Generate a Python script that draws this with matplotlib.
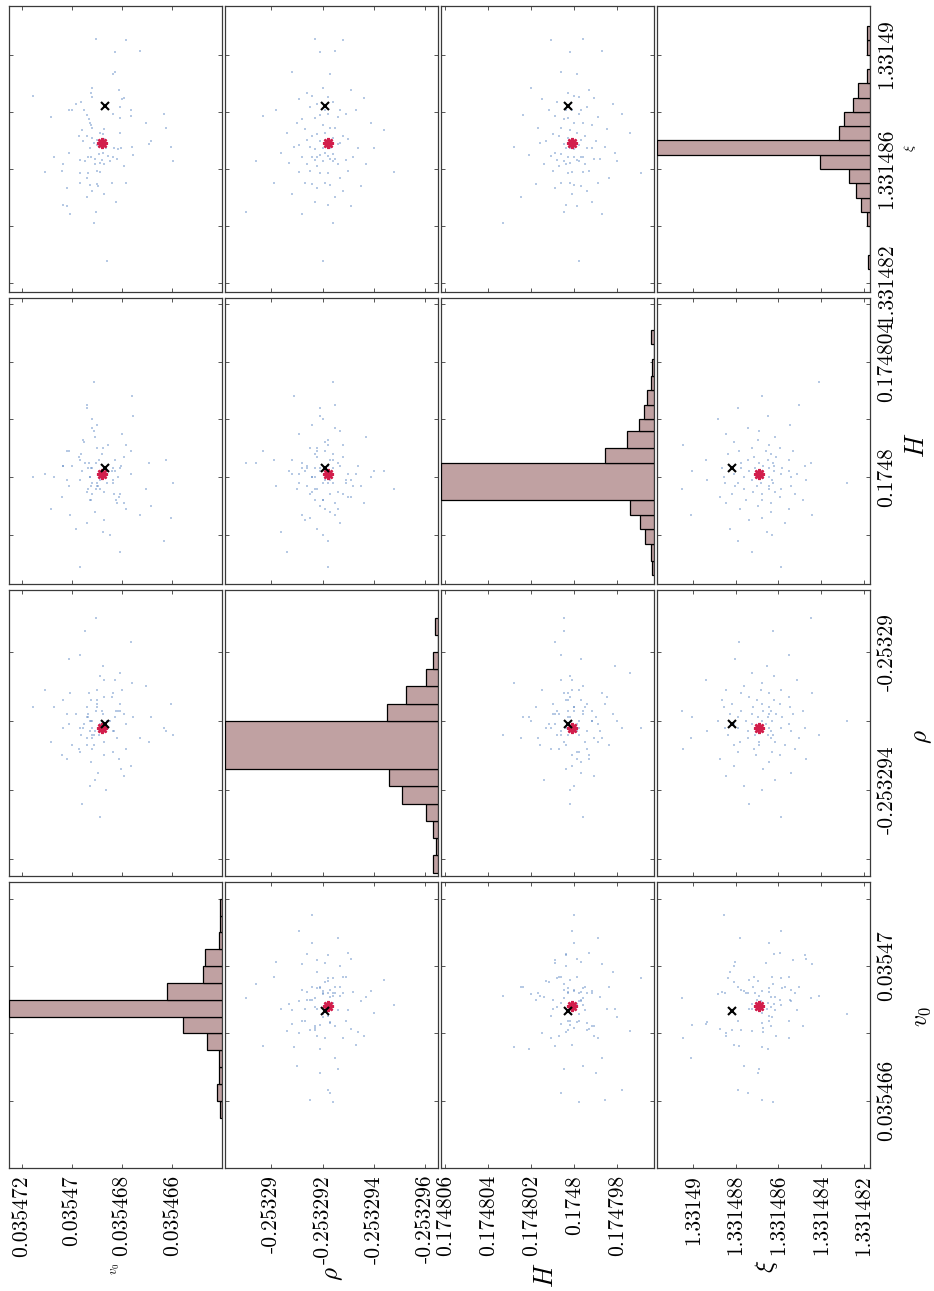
import numpy as np
import matplotlib
matplotlib.use("Agg")
import matplotlib.pyplot as plt

plt.rcParams['mathtext.fontset'] = 'cm'

# ---- posterior draws (offsets in units of 1e-6 from a reference value) ----
v0_off = [-0.96, -2.15, -1.75, -2.73, -1.72, -1.67, -0.83, -1.88, -0.76, -0.80,
          -1.99, -2.09, 1.53, -0.36, -0.17, 0.00, 0.11, -0.48, -1.91, -2.35,
          -0.63, 0.84, -0.71, -1.64, -2.36, -3.69, -1.91, -0.75, -0.79, -0.81,
          -2.97, -3.77, -1.28, -0.40, -1.27, -1.13, -1.93, -0.31, -0.63, -0.80,
          -0.45, -1.00, -1.29, -3.17, -3.07, -2.40, -1.69, -1.85, -1.96, -3.97,
          0.09, -1.03, -0.89, -0.73, -1.39, -0.65, -1.09, -1.27, -1.47, 0.69,
          -0.77, -1.64, -1.79, -2.45, -0.33, -0.53, -0.92, -1.21, -1.29, -1.13,
          -0.93, -1.52, 0.36, -4.04, -2.09, 0.40, 1.05, -0.35, -1.00, -1.15,
          -0.65, -0.63, -0.33, -0.72, -1.01, -1.05, -1.63, -2.15, 0.19, -0.81,
          -1.29, -0.63, -1.77, 0.33, 0.20, 0.05, -0.96, -0.89, -1.41]
rho_off = [0.3, -0.8, 0.1, -0.5, 1.2, -0.3, 0.0, -1.1, 0.6, -0.2,
           0.9, -1.6, 0.4, -0.4, 0.2, -0.7, 1.8, -0.1, 0.5, -1.3,
           0.1, -0.6, 0.8, -0.9, 2.3, -0.2, 0.3, -1.9, 0.0, -0.5,
           1.0, -0.3, 0.7, -2.4, 0.2, -0.1, 1.4, -0.8, 0.4, -0.4,
           -0.2, 0.6, -1.0, 0.1, -0.6, 1.1, -0.3, 0.3, -1.4, 0.5,
           -0.1, 0.9, -0.7, 0.0, -2.0, 0.2, -0.4, 1.6, -0.2, 0.4,
           -1.2, 0.8, -0.5, 0.1, -0.9, 2.6, -0.3, 0.3, -0.6, 1.3,
           -1.7, 0.0, 0.6, -0.4, 0.2, -1.0, 0.9, -0.2, 0.5, -2.8,
           0.1, -0.7, 1.9, -0.3, 0.4, -1.5, 0.7, -0.1, 0.2, -0.8,
           1.2, -0.5, 0.3, -0.2, -1.1, 0.8, 3.0, -0.4, 0.0]
H_off = [-0.4, 1.1, 0.2, -1.3, 0.6, -0.1, 2.0, -0.7, 0.3, -0.2,
         1.5, -0.9, 0.0, 0.8, -1.8, 0.4, -0.3, 1.2, -0.6, 0.1,
         2.4, -1.1, 0.5, -0.2, 0.9, -2.2, 0.3, 0.0, -0.8, 1.7,
         -0.4, 0.6, -1.5, 0.2, 1.0, -0.1, -2.6, 0.7, -0.5, 0.3,
         1.3, -0.3, 0.1, -1.0, 0.5, 2.8, -0.6, 0.0, 0.4, -1.4,
         0.9, -0.2, 1.6, -0.8, 0.2, -0.4, 0.6, -1.9, 1.1, 0.0,
         -0.3, 0.3, -0.9, 2.1, -0.1, 0.5, -1.2, 0.8, -0.5, 0.2,
         1.4, -2.0, 0.4, -0.2, 0.7, -0.7, 0.1, -3.1, 1.0, -0.4,
         0.3, -1.6, 0.6, 0.0, 1.8, -0.3, 0.2, -1.1, 0.9, -0.6,
         0.1, 2.5, -0.8, 0.4, -0.1, -1.3, 0.5, 3.3, -0.2]
xi_off = [0.53, 0.50, 0.08, 0.12, -0.60, -0.67, -1.17, -1.24, -1.35, -1.49,
          -1.54, -1.52, -1.45, -1.64, -1.74, -1.93, -1.95, -1.93, -1.84, -1.93,
          -2.12, -2.18, -2.26, -2.08, -2.14, -2.08, -2.23, -2.39, -2.47, -2.56,
          -2.40, -2.55, -2.61, -2.64, -2.76, -2.75, -2.75, -2.84, -2.83, -2.92,
          -3.02, -2.99, -2.94, -3.02, -3.11, -3.22, -3.25, -3.30, -3.26, -3.22,
          -3.43, -3.16, -3.10, -3.25, -3.25, -3.58, -3.49, -3.45, -3.54, -3.57,
          -3.58, -3.58, -3.66, -3.51, -3.68, -3.73, -3.65, -3.67, -3.84, -3.79,
          -3.82, -3.71, -3.81, -3.73, -3.89, -4.06, -4.12, -4.14, -4.07, -4.11,
          -4.15, -4.30, -4.50, -4.57, -4.54, -4.61, -4.50, -4.50, -4.68, -4.78,
          -4.89, -4.97, -5.16, -5.26, -5.29, -5.59, -5.52, -5.89, -7.20]

v0_samples = 0.03547 + 1e-6 * np.array(v0_off)
rho_samples = -0.253292 + 1e-6 * np.array(rho_off)
H_samples = 0.1748 + 1e-6 * np.array(H_off)
xi_samples = 1.33149 + 1e-6 * np.array(xi_off)

# point estimate (asterisk) and reference value (cross)
estimate = [0.0354688, -0.2532922, 0.1748001, 1.3314869]
reference = [0.03546867, -0.2532921, 0.1748003, 1.3314882]

# ---- marginal histograms: bin edges (ascending) and counts ----
v0_edges = [0.0354655, 0.035466, 0.0354665, 0.035467, 0.0354675, 0.035468, 0.0354685,
            0.035469, 0.0354695, 0.03547, 0.0354705, 0.035471, 0.0354715, 0.035472]
v0_counts = [1, 3, 2, 2, 9, 23, 125, 32, 11, 10, 2, 1, 1]
rho_edges = [-0.2532964, -0.2532959, -0.2532954, -0.2532949, -0.2532944, -0.2532939,
             -0.2532934, -0.253292, -0.2532915, -0.253291, -0.2532905, -0.25329,
             -0.2532895, -0.253289]
rho_counts = [3, 1, 3, 7, 21, 29, 125, 30, 19, 7, 3, 0, 2]
H_edges = [0.1747966, 0.1747971, 0.1747977, 0.1747982, 0.1747987, 0.1747992, 0.1748005,
           0.174801, 0.1748016, 0.174802, 0.1748025, 0.174803, 0.1748035, 0.1748041,
           0.1748046, 0.1748051]
H_counts = [1, 2, 5, 8, 14, 125, 29, 16, 9, 6, 4, 2, 1, 0, 2]
xi_edges = [1.3314825, 1.331483, 1.3314835, 1.331484, 1.3314845, 1.331485, 1.3314855,
            1.331486, 1.3314865, 1.331487, 1.3314875, 1.331488, 1.3314885, 1.331489,
            1.3314895, 1.33149, 1.3314905, 1.331491]
xi_counts = [1, 0, 0, 2, 5, 8, 12, 29, 124, 18, 15, 10, 7, 2, 0, 2, 2]

# ---- axis set-up per parameter ----
names = [r'$v_0$', r'$\rho$', r'$H$', r'$\xi$']
limits = [(0.035464, 0.0354725), (-0.2532965, -0.2532882),
          (0.1747963, 0.1748062), (1.3314817, 1.3314917)]
ticks = [[0.035466, 0.035468, 0.03547, 0.035472],
         [-0.253296, -0.253294, -0.253292, -0.25329],
         [0.174798, 0.1748, 0.174802, 0.174804, 0.174806],
         [1.331482, 1.331484, 1.331486, 1.331488, 1.33149]]
bottom_labels = [['0.035466', '0.035468', '0.03547', '0.035472'],
                 ['-0.253296', '-0.253294', '-0.253292', '-0.25329'],
                 ['0.174798', '0.1748', '0.174802', '0.174804', '0.174806'],
                 ['1.331482', '1.331484', '1.331486', '1.331488', '1.33149']]
side_labels = [['0.035466', '', '0.03547', ''],
               ['', '-0.253294', '', '-0.25329'],
               ['', '0.1748', '', '0.174804', ''],
               ['1.331482', '', '1.331486', '', '1.33149']]

samples = [v0_samples, rho_samples, H_samples, xi_samples]
hists = [(v0_edges, v0_counts), (rho_edges, rho_counts),
         (H_edges, H_counts), (xi_edges, xi_counts)]

W, HT = 934, 1291
fig = plt.figure(figsize=(W / 100, HT / 100), dpi=100)
fig.patch.set_facecolor('white')

col_left = [9, 225, 441, 657]
row_top = [6, 298, 590, 882]
pw, ph = 213, 286

frame_col = '#3a3a3a'
tick_font = dict(fontfamily='cmr10', fontsize=15.5)

for c in range(4):
    for r in range(4):
        vy = 3 - r
        ax = fig.add_axes([col_left[c] / W, (HT - row_top[r] - ph) / HT, pw / W, ph / HT])
        ax.set_xlim(limits[c][1], limits[c][0])
        ax.set_ylim(*limits[vy])
        ax.set_xticks(ticks[c])
        ax.set_yticks(ticks[vy])
        ax.tick_params(direction='in', length=3, width=0.6, color=frame_col,
                       top=True, right=True, labelbottom=False, labelleft=False,
                       labelcolor='black')
        for sp in ax.spines.values():
            sp.set_color(frame_col)
            sp.set_linewidth(0.9)

        if c == vy:
            edges, counts = hists[c]
            edges = np.array(edges)
            hx = ax.twiny()
            hx.barh(edges[:-1], counts, height=np.diff(edges), align='edge',
                    left=0, color='#C0A1A2', edgecolor='black', linewidth=0.9)
            hx.set_xlim(max(counts), 0)
            hx.set_xticks([])
            for sp in hx.spines.values():
                sp.set_visible(False)
        else:
            ax.scatter(samples[c], samples[vy], s=1.6, marker='s', color='#5d88c4',
                       alpha=0.45, linewidths=0, zorder=2)
            ax.plot(estimate[c], estimate[vy], marker=(8, 2, 0), markersize=8,
                    mew=1.8, color='#D21E4C', linestyle='none', zorder=4)
            ax.plot(reference[c], reference[vy], marker='x', markersize=6,
                    mew=1.5, color='black', linestyle='none', zorder=4)

        if r == 3:
            ax.set_xticklabels(bottom_labels[c], rotation=90, **tick_font)
            ax.tick_params(labelbottom=True, pad=5)
        if c == 3:
            ax.set_yticklabels(side_labels[vy], rotation=90, va='center', **tick_font)
            ax.tick_params(labelright=True, labelleft=False, pad=5)


def put(x, y, s, size):
    fig.text(x / W, 1 - y / HT, s, rotation=90, ha='center', va='center', fontsize=size)


# parameter names along the bottom and the right-hand side
put(115, 1269, names[0], 9)
put(333, 1274, names[1], 18)
put(546, 1275, names[2], 19)
put(766, 1266, names[3], 18)
put(921, 1017, names[0], 17)
put(922, 737, names[1], 18)
put(917, 445, names[2], 19)
put(910, 148, names[3], 10)

fig.savefig('out.png', dpi=100, facecolor='white')
